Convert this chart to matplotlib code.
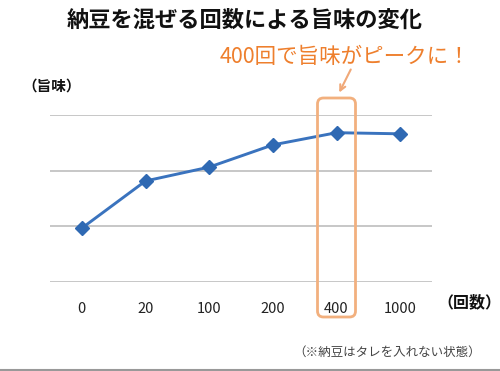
import matplotlib
matplotlib.use("Agg")
import matplotlib.pyplot as plt
from matplotlib.patches import FancyBboxPatch
from matplotlib.transforms import IdentityTransform

plt.rcParams['font.family'] = ['Noto Sans CJK JP', 'DejaVu Sans']

categories = ['0', '20', '100', '200', '400', '1000']
umami = [0.97, 1.82, 2.07, 2.47, 2.69, 2.67]
title = '納豆を混ぜる回数による旨味の変化'
note = '400回で旨味がピークに！'
ylabel = '（旨味）'
xlabel = '（回数）'
footnote = '（※納豆はタレを入れない状態）'
peak_index = 4

fig = plt.figure(figsize=(5.0, 3.71), dpi=100)
ax = fig.add_axes([0.1, 0.2399, 0.764, 0.4488])
x = list(range(len(categories)))
ax.set_xlim(-0.5, len(categories) - 0.5)
ax.set_ylim(0, 3)
ax.set_yticks([0, 1, 2, 3])
ax.yaxis.grid(True, color='#BEBEBE', linewidth=1.2)
ax.set_axisbelow(True)
for s in ax.spines.values():
    s.set_visible(False)
ax.tick_params(axis='y', left=False, labelleft=False)
ax.tick_params(axis='x', bottom=False, labelsize=10.5, pad=11, colors='#222222')
ax.set_xticks(x)
ax.set_xticklabels(categories)

ax.plot(x, umami, color='#3A73BE', linewidth=2.1, marker='D', markersize=7,
        markerfacecolor='#2F69B3', markeredgecolor='#2F69B3', zorder=3)

fig.text(0.49, 0.945, title, ha='center', va='center', fontsize=16,
         fontweight='bold', color='#111111')
fig.text(0.045, 0.77, ylabel, ha='left', va='center', fontsize=10.5,
         fontweight='bold', color='#111111')
fig.text(0.874, 0.186, xlabel, ha='left', va='center', fontsize=11.5,
         fontweight='bold', color='#111111')
fig.text(0.962, 0.05, footnote, ha='right', va='center', fontsize=9,
         color='#444444')
fig.text(0.69, 0.846, note, ha='center', va='center', fontsize=15.5,
         color='#EE7F2D')

# highlight box around peak category
fig.canvas.draw()
cx, _ = ax.transData.transform((peak_index, 0))
H = 371
box = FancyBboxPatch((cx - 19, H - 317), 38, 219,
                     boxstyle='round,pad=0,rounding_size=6',
                     transform=IdentityTransform(), fill=False,
                     edgecolor='#F2B07E', linewidth=2, zorder=5)
fig.patches.append(box)
ax.annotate('', xy=(338, H - 95), xycoords='figure pixels',
            xytext=(352, H - 67), textcoords='figure pixels',
            arrowprops=dict(arrowstyle='->', color='#F0A878', lw=1.5))

fig.add_artist(plt.Line2D([0, 1], [0.003, 0.003], transform=fig.transFigure,
                          color='#999999', linewidth=1.5))

fig.savefig('out.png', dpi=100)
